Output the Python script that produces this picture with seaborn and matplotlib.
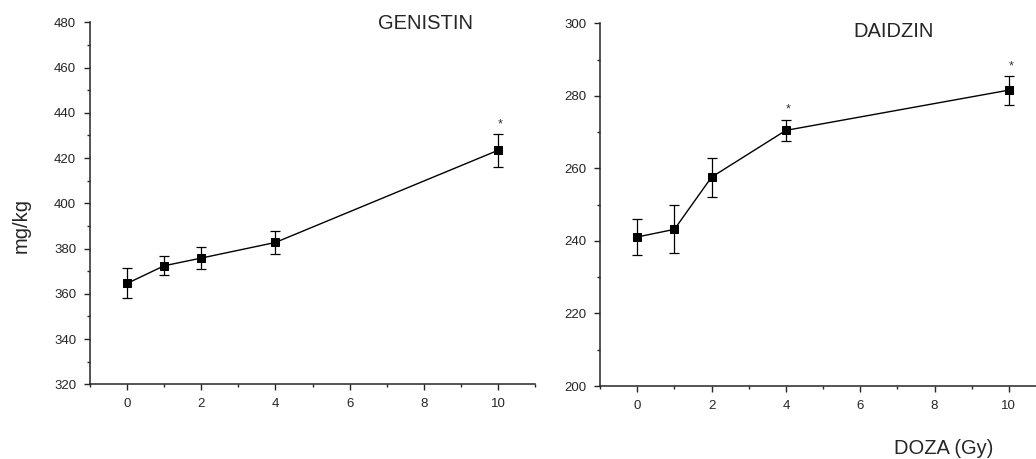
import numpy as np
import pandas as pd
import seaborn as sns
import matplotlib
matplotlib.use("Agg")
import matplotlib.pyplot as plt
from matplotlib.ticker import MultipleLocator

doza = [0, 1, 2, 4, 10]

genistin = [364.6, 372.4, 375.8, 382.7, 423.4]
genistin_err = [6.6, 4.3, 4.9, 5.0, 7.2]
genistin_sig = [10]

daidzin = [241.1, 243.2, 257.6, 270.5, 281.6]
daidzin_err = [4.9, 6.6, 5.4, 3.0, 4.0]
daidzin_sig = [4, 10]

sns.set_style("ticks")
plt.rcParams["font.family"] = ["Liberation Sans", "DejaVu Sans"]
plt.rcParams["xtick.direction"] = "out"
plt.rcParams["ytick.direction"] = "out"

fig = plt.figure(figsize=(10.36, 4.59), dpi=100)
ax1 = fig.add_axes([0.0869, 0.1627, 0.4295, 0.7887])
ax2 = fig.add_axes([0.5792, 0.159, 0.4305, 0.790])


def panel(ax, vals, errs, sig, ylim, title, title_pos, star_off):
    df = pd.DataFrame({"doza": doza, "val": vals})
    sns.lineplot(data=df, x="doza", y="val", ax=ax, color="black",
                 marker="s", markersize=6, markeredgecolor="black",
                 linewidth=1.0, errorbar=None)
    ax.errorbar(doza, vals, yerr=errs, fmt="none", ecolor="black",
                elinewidth=0.9, capsize=3.5, capthick=0.9)
    for d in sig:
        i = doza.index(d)
        ax.text(d + 0.07, vals[i] + errs[i] + star_off, "*", ha="center",
                va="bottom", fontsize=9, color="#333333")
    ax.set_xlim(-1, 11)
    ax.set_ylim(*ylim)
    ax.xaxis.set_major_locator(MultipleLocator(2))
    ax.xaxis.set_minor_locator(MultipleLocator(1))
    ax.yaxis.set_major_locator(MultipleLocator(20))
    ax.yaxis.set_minor_locator(MultipleLocator(10))
    ax.tick_params(which="major", length=4, width=1, labelsize=9.5, pad=6)
    ax.tick_params(which="minor", length=2.5, width=1)
    ax.set_xlabel("")
    ax.set_ylabel("")
    for s in ["top", "right"]:
        ax.spines[s].set_visible(False)
    for s in ["left", "bottom"]:
        ax.spines[s].set_linewidth(1.1)
    ax.text(title_pos[0], title_pos[1], title, ha="center", va="center",
            fontsize=14.5)


panel(ax1, genistin, genistin_err, genistin_sig, (320, 480), "GENISTIN",
      (8.05, 479.5), 1.5)
panel(ax2, daidzin, daidzin_err, daidzin_sig, (200, 300), "DAIDZIN",
      (6.9, 297.9), 1.0)

fig.text(21 / 1036, 1 - 226 / 459, "mg/kg", rotation=90, ha="center",
         va="center", fontsize=14.5)
fig.text(944 / 1036, 1 - 448 / 459, "DOZA (Gy)", ha="center", va="center",
         fontsize=14.5)

fig.savefig("out.png", dpi=100)
